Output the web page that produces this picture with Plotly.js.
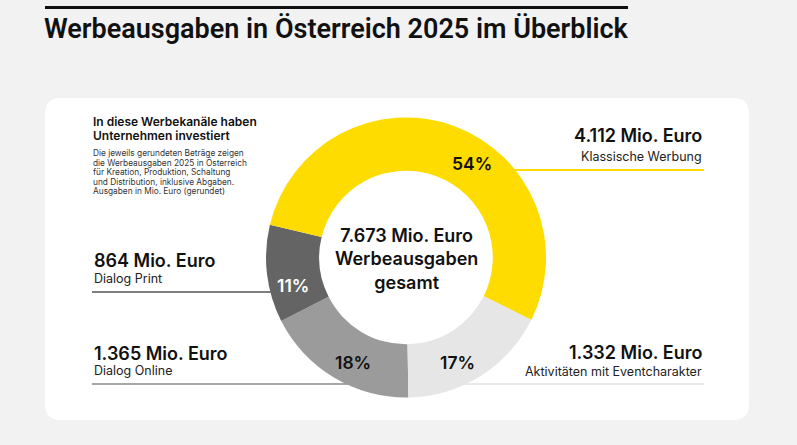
<!DOCTYPE html>
<html>
<head>
<meta charset="utf-8">
<script src="https://cdn.plot.ly/plotly-3.0.1.min.js"></script>
<style>
  html, body { margin: 0; padding: 0; background: #f2f2f2; }
  #chart { width: 797px; height: 445px; }
</style>
</head>
<body>
<div id="chart"></div>
<script>
// Werbeausgaben 2025 nach Kanal, in Mio. Euro (gerundet)
const channels = ['Dialog Online', 'Dialog Print', 'Klassische Werbung', 'Aktivitäten mit Eventcharakter'];
const spending = [1365, 864, 4112, 1332];
const sliceColors = ['#9b9b9b', '#646464', '#ffdc00', '#e6e6e6'];
const pctColors = ['#111111', '#ffffff', '#111111', '#111111'];

const W = 797, H = 445;
const FONT = 'Inter, "Noto Sans", sans-serif';
const px = x => x / W;
const py = y => 1 - y / H;

const total = spending.reduce((a, b) => a + b, 0);
const fmt = n => String(n).replace(/\B(?=(\d{3})+(?!\d))/g, '.');

// donut geometry (pixels)
const cx = 406, cy = 257.5, R = 140;

// label placement per channel: side, amount y, name y, rule y, rule extent
const labelPos = [
  { side: 'left',  x: 92,  yAmt: 353, yName: 370, yRule: 384, x0: 92,  x1: 350, rule: '#8a8a8a' },
  { side: 'left',  x: 92,  yAmt: 260, yName: 278, yRule: 292, x0: 92,  x1: 274, rule: '#555555' },
  { side: 'right', x: 704, yAmt: 136, yName: 156, yRule: 170, x0: 511, x1: 704, rule: '#ffdc00' },
  { side: 'right', x: 704, yAmt: 352, yName: 371, yRule: 384, x0: 464, x1: 704, rule: '#e2e2e2' }
];
const pctPos = [[353, 362], [293, 285], [472, 164], [457, 362]];

const annotations = [];
const shapes = [];

// white card with rounded corners
const cL = 45, cT = 98, cR = 749, cB = 420, r = 16;
const P = (x, y) => px(x) + ',' + py(y);
shapes.push({
  type: 'path', xref: 'paper', yref: 'paper', layer: 'below',
  path: 'M' + P(cL + r, cT) + ' L' + P(cR - r, cT) + ' Q' + P(cR, cT) + ' ' + P(cR, cT + r) +
        ' L' + P(cR, cB - r) + ' Q' + P(cR, cB) + ' ' + P(cR - r, cB) +
        ' L' + P(cL + r, cB) + ' Q' + P(cL, cB) + ' ' + P(cL, cB - r) +
        ' L' + P(cL, cT + r) + ' Q' + P(cL, cT) + ' ' + P(cL + r, cT) + ' Z',
  fillcolor: '#ffffff', line: { width: 0 }
});

// rule above the headline
shapes.push({
  type: 'line', xref: 'paper', yref: 'paper',
  x0: px(45), x1: px(628), y0: py(7.5), y1: py(7.5),
  line: { color: '#111111', width: 3 }
});

channels.forEach((name, i) => {
  const p = labelPos[i];
  const anchor = p.side === 'left' ? 'left' : 'right';
  annotations.push({
    xref: 'paper', yref: 'paper', x: px(p.x), y: py(p.yAmt), xanchor: anchor, yanchor: 'middle',
    text: fmt(spending[i]) + ' Mio. Euro', showarrow: false,
    font: { family: FONT, size: 18, weight: 600, color: '#111111' }
  });
  annotations.push({
    xref: 'paper', yref: 'paper', x: px(p.x), y: py(p.yName), xanchor: anchor, yanchor: 'middle',
    text: name, showarrow: false,
    font: { family: FONT, size: 12.5, weight: 400, color: '#222222' }
  });
  shapes.push({
    type: 'line', xref: 'paper', yref: 'paper', layer: 'below',
    x0: px(p.x0), x1: px(p.x1), y0: py(p.yRule), y1: py(p.yRule),
    line: { color: p.rule, width: i === 2 ? 2 : 1.5 }
  });
  annotations.push({
    xref: 'paper', yref: 'paper', x: px(pctPos[i][0]), y: py(pctPos[i][1]),
    xanchor: 'center', yanchor: 'middle',
    text: Math.round(spending[i] / total * 100) + '%', showarrow: false,
    font: { family: FONT, size: 17.5, weight: 600, color: pctColors[i] }
  });
});

// total in the middle of the ring
annotations.push({
  xref: 'paper', yref: 'paper', x: px(cx), y: py(259), xanchor: 'center', yanchor: 'middle',
  text: fmt(total) + ' Mio. Euro<br>Werbeausgaben<br>gesamt', showarrow: false,
  font: { family: FONT, size: 18, weight: 600, color: '#111111' }
});

// introductory text block
const introHead = ['In diese Werbekanäle haben', 'Unternehmen investiert'];
const introBody = [
  'Die jeweils gerundeten Beträge zeigen',
  'die Werbeausgaben 2025 in Österreich',
  'für Kreation, Produktion, Schaltung',
  'und Distribution, inklusive Abgaben.',
  'Ausgaben in Mio. Euro (gerundet)'
];
introHead.forEach((t, k) => annotations.push({
  xref: 'paper', yref: 'paper', x: px(91), y: py(122 + k * 13.6), xanchor: 'left', yanchor: 'middle',
  text: t, showarrow: false, font: { family: FONT, size: 12, weight: 600, color: '#111111' }
}));
introBody.forEach((t, k) => annotations.push({
  xref: 'paper', yref: 'paper', x: px(91), y: py(153.5 + k * 9.4), xanchor: 'left', yanchor: 'middle',
  text: t, showarrow: false, font: { family: FONT, size: 8.3, weight: 400, color: '#333333' }
}));

const trace = {
  type: 'pie',
  labels: channels,
  values: spending,
  marker: { colors: sliceColors, line: { width: 0 } },
  hole: 0.62,
  sort: false,
  direction: 'clockwise',
  rotation: 179,
  textinfo: 'none',
  hoverinfo: 'none',
  showlegend: false,
  domain: { x: [px(cx - R), px(cx + R)], y: [py(cy + R), py(cy - R)] }
};

const layout = {
  width: W, height: H,
  margin: { l: 0, r: 0, t: 0, b: 0 },
  paper_bgcolor: '#f2f2f2',
  plot_bgcolor: '#f2f2f2',
  title: {
    text: 'Werbeausgaben in Österreich 2025 im Überblick',
    x: px(44), xanchor: 'left', xref: 'paper',
    y: py(29), yanchor: 'middle', yref: 'paper',
    font: { family: 'Roboto, ' + FONT, size: 27, weight: 600, color: '#111111' }
  },
  showlegend: false,
  shapes: shapes,
  annotations: annotations
};

Plotly.newPlot('chart', [trace], layout, { staticPlot: true, displayModeBar: false });
</script>
</body>
</html>
